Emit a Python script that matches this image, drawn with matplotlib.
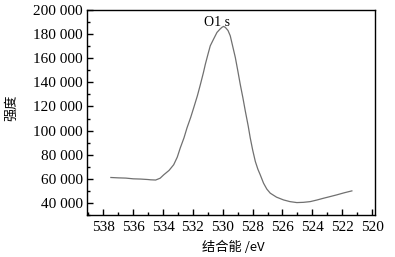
import numpy as np
import matplotlib
matplotlib.use("Agg")
import matplotlib.pyplot as plt
from matplotlib.ticker import MultipleLocator, FuncFormatter

# Spectre XPS O1s
energie = [537.5, 537.0, 536.5, 536.0, 535.5, 535.0, 534.85, 534.5, 534.2, 533.96,
           533.6, 533.29, 533.05, 532.85, 532.6, 532.4, 532.15, 531.95, 531.7, 531.5,
           531.3, 531.17, 531.0, 530.84, 530.62, 530.39, 530.2, 530.06, 529.95, 529.83,
           529.65, 529.5, 529.3, 529.16, 529.0, 528.83, 528.65, 528.49, 528.3, 528.16,
           528.0, 527.82, 527.65, 527.49, 527.27, 527.05, 526.82, 526.4, 525.93, 525.5,
           525.04, 524.6, 524.14, 523.7, 523.25, 522.8, 522.36, 521.9, 521.35]
intensite = [61100, 60800, 60600, 60000, 59800, 59400, 59200, 59000, 60500, 63300,
             67000, 71700, 78000, 85600, 94000, 102200, 111000, 118900, 129000, 138300,
             148000, 155000, 163000, 170300, 175800, 181400, 184000, 185600, 186400, 185600,
             183000, 178600, 168000, 160600, 150000, 138300, 127000, 116100, 104000, 93900,
             84000, 74400, 68000, 63300, 56400, 51500, 48100, 44800, 42500, 41100,
             40300, 40500, 41100, 42400, 43900, 45300, 46700, 48300, 50000]

fig = plt.figure(figsize=(3.95, 2.57), dpi=100)
ax = fig.add_axes([87/395, 1 - 215/257, (375-87)/395, (215-10)/257])

ax.plot(energie, intensite, color='#707070', lw=0.9)

ax.set_xlim(539.1, 519.8)
ax.set_ylim(30000, 200000)
ax.xaxis.set_major_locator(MultipleLocator(2))
ax.xaxis.set_minor_locator(MultipleLocator(1))
ax.yaxis.set_major_locator(MultipleLocator(20000))
ax.yaxis.set_minor_locator(MultipleLocator(10000))
ax.yaxis.set_major_formatter(FuncFormatter(lambda v, p: f"{int(v):,}".replace(",", " ")))

ax.tick_params(which='both', direction='in', top=False, right=False)
ax.tick_params(which='major', length=4, width=1)
ax.tick_params(which='minor', length=2, width=1)
for lab in ax.get_xticklabels() + ax.get_yticklabels():
    lab.set_fontfamily('Liberation Serif')
    lab.set_fontsize(11)
ax.tick_params(axis='x', pad=4)
ax.tick_params(axis='y', pad=3)
for s in ax.spines.values():
    s.set_linewidth(1.0)

ax.text(530.4, 190000, "O1 s", family='Liberation Serif', fontsize=10,
        ha='center', va='center')

cjk = ['Noto Sans CJK SC', 'Liberation Serif']
fig.text(12/395, 1 - 108/257, "强度", family=cjk, fontsize=9.5, rotation=90,
         ha='center', va='center')
fig.text(233/395, 1 - 247/257, "结合能 /eV", family=cjk, fontsize=9.5,
         ha='center', va='center')

fig.savefig("out.png", dpi=100)
